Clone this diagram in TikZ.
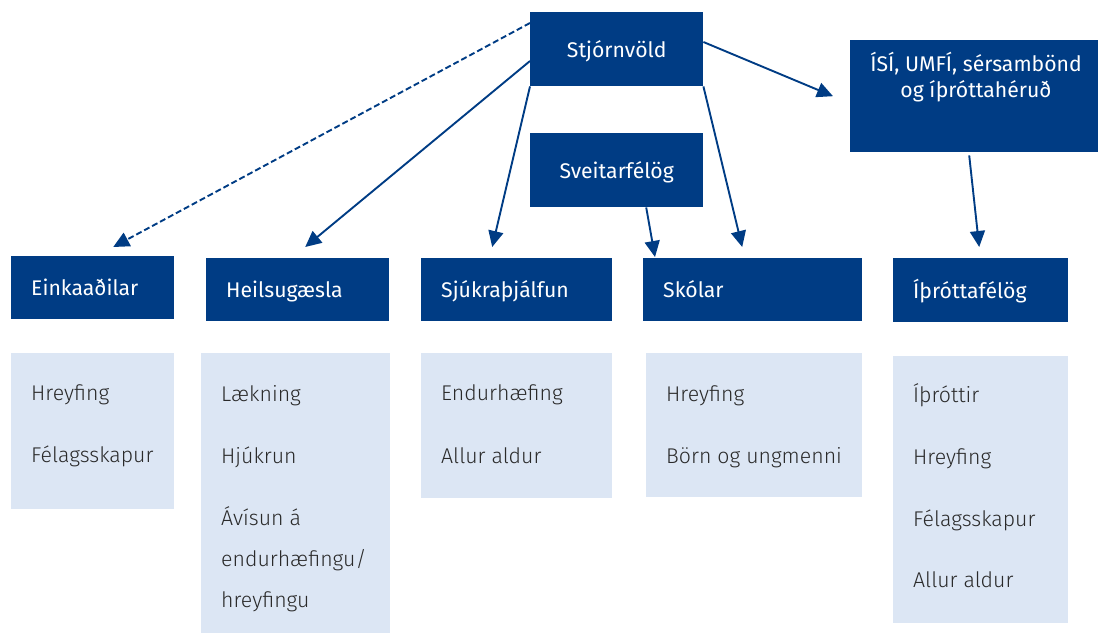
\documentclass[tikz,border=0pt]{standalone}
\usepackage{fontspec}
\setmainfont{Fira Sans}
\newfontfamily\lightfont{Fira Sans Light}
\usetikzlibrary{arrows.meta}
\definecolor{darkblue}{HTML}{003C84}
\definecolor{lightblue}{HTML}{DCE6F4}
\definecolor{itemtext}{HTML}{2A2A2A}
\begin{document}
\begin{tikzpicture}[x=1pt,y=-1pt,
  darkbox/.style={fill=darkblue, text=white, inner ysep=0pt,
    font=\fontsize{21.2}{26}\selectfont, text height=16pt, text depth=0pt},
  leftbox/.style={darkbox, anchor=north west, inner xsep=20pt, align=left},
  centerbox/.style={darkbox, anchor=north west, inner xsep=0pt, align=center},
  whitetext/.style={text=white, inner sep=0pt, anchor=base, font=\fontsize{21.2}{26}\selectfont},
  lightbox/.style={fill=lightblue, anchor=north west, inner sep=0pt},
  item/.style={text=itemtext, inner sep=0pt, anchor=base west, font=\lightfont\fontsize{21.3}{26}\selectfont},
  conn/.style={draw=darkblue, line width=1.9pt, -{Triangle[length=16pt,width=15pt]}},
  dashconn/.style={conn, dash pattern=on 6pt off 3pt}
]
\useasboundingbox (0,0) rectangle (1098,634);

% top boxes
\node[centerbox, minimum width=173pt, minimum height=74pt, text width=173pt] (stj) at (530,12) {Stjórnvöld};
\node[centerbox, minimum width=173pt, minimum height=74pt, text width=173pt] (sveit) at (530,133) {Sveitarfélög};
\node[darkbox, anchor=north west, minimum width=248pt, minimum height=112pt] (isi) at (850,40) {};
\node[whitetext] (isi1) at (976,71) {ÍSÍ, UMFÍ, sérsambönd};
\node[whitetext] (isi2) at (976,97) {og íþróttahéruð};

% second row
\node[leftbox, minimum width=163pt, minimum height=63pt, text width=123pt] (eink) at (11,256) {Einkaaðilar};
\node[leftbox, minimum width=183pt, minimum height=63pt, text width=143pt] (heil) at (206,258) {Heilsugæsla};
\node[leftbox, minimum width=191pt, minimum height=63pt, text width=151pt] (sjuk) at (421,258) {Sjúkraþjálfun};
\node[leftbox, minimum width=219pt, minimum height=63pt, text width=179pt] (skol) at (643,258) {Skólar};
\node[leftbox, minimum width=175pt, minimum height=64pt, text width=135pt] (ithf) at (893,258) {Íþróttafélög};

% light boxes
\node[lightbox, minimum width=163pt, minimum height=156pt] (l1) at (11,353) {};
\node[item] (l1a) at (31,400) {Hreyfing};
\node[item] (l1b) at (31,462) {Félagsskapur};

\node[lightbox, minimum width=189pt, minimum height=280pt] (l2) at (201,353) {};
\node[item] (l2a) at (221,401) {Lækning};
\node[item] (l2b) at (221,463) {Hjúkrun};
\node[item] (l2c) at (221,525) {Ávísun á};
\node[item] (l2d) at (221,566) {endurhæfingu/};
\node[item] (l2e) at (221,607) {hreyfingu};

\node[lightbox, minimum width=191pt, minimum height=145pt] (l3) at (421,353) {};
\node[item] (l3a) at (441,400) {Endurhæfing};
\node[item] (l3b) at (441,463) {Allur aldur};

\node[lightbox, minimum width=216pt, minimum height=144pt] (l4) at (646,353) {};
\node[item] (l4a) at (666,401) {Hreyfing};
\node[item] (l4b) at (666,463) {Börn og ungmenni};

\node[lightbox, minimum width=175pt, minimum height=267pt] (l5) at (893,356) {};
\node[item] (l5a) at (913,402) {Íþróttir};
\node[item] (l5b) at (913,464) {Hreyfing};
\node[item] (l5c) at (913,526) {Félagsskapur};
\node[item] (l5d) at (913,587) {Allur aldur};

% connectors
\draw[dashconn] ([yshift=-11pt]stj.north west) -- ([xshift=20.5pt,yshift=9pt]eink.north);
\draw[conn] ([yshift=-49pt]stj.north west) -- ([xshift=7.5pt,yshift=11pt]heil.north);
\draw[conn] (stj.south west) -- ([xshift=-24.5pt,yshift=11pt]sjuk.north);
\draw[conn] (stj.south east) -- ([xshift=-10.5pt,yshift=11pt]skol.north);
\draw[conn] ([xshift=29.5pt]sveit.south) -- ([xshift=12pt,yshift=1pt]skol.north west);
\draw[conn] ([yshift=-30pt]stj.north east) -- ([xshift=-17pt]isi.west);
\draw[conn] ([xshift=-5pt,yshift=-3pt]isi.south) -- ([xshift=-1.5pt,yshift=11pt]ithf.north);
\end{tikzpicture}
\end{document}
